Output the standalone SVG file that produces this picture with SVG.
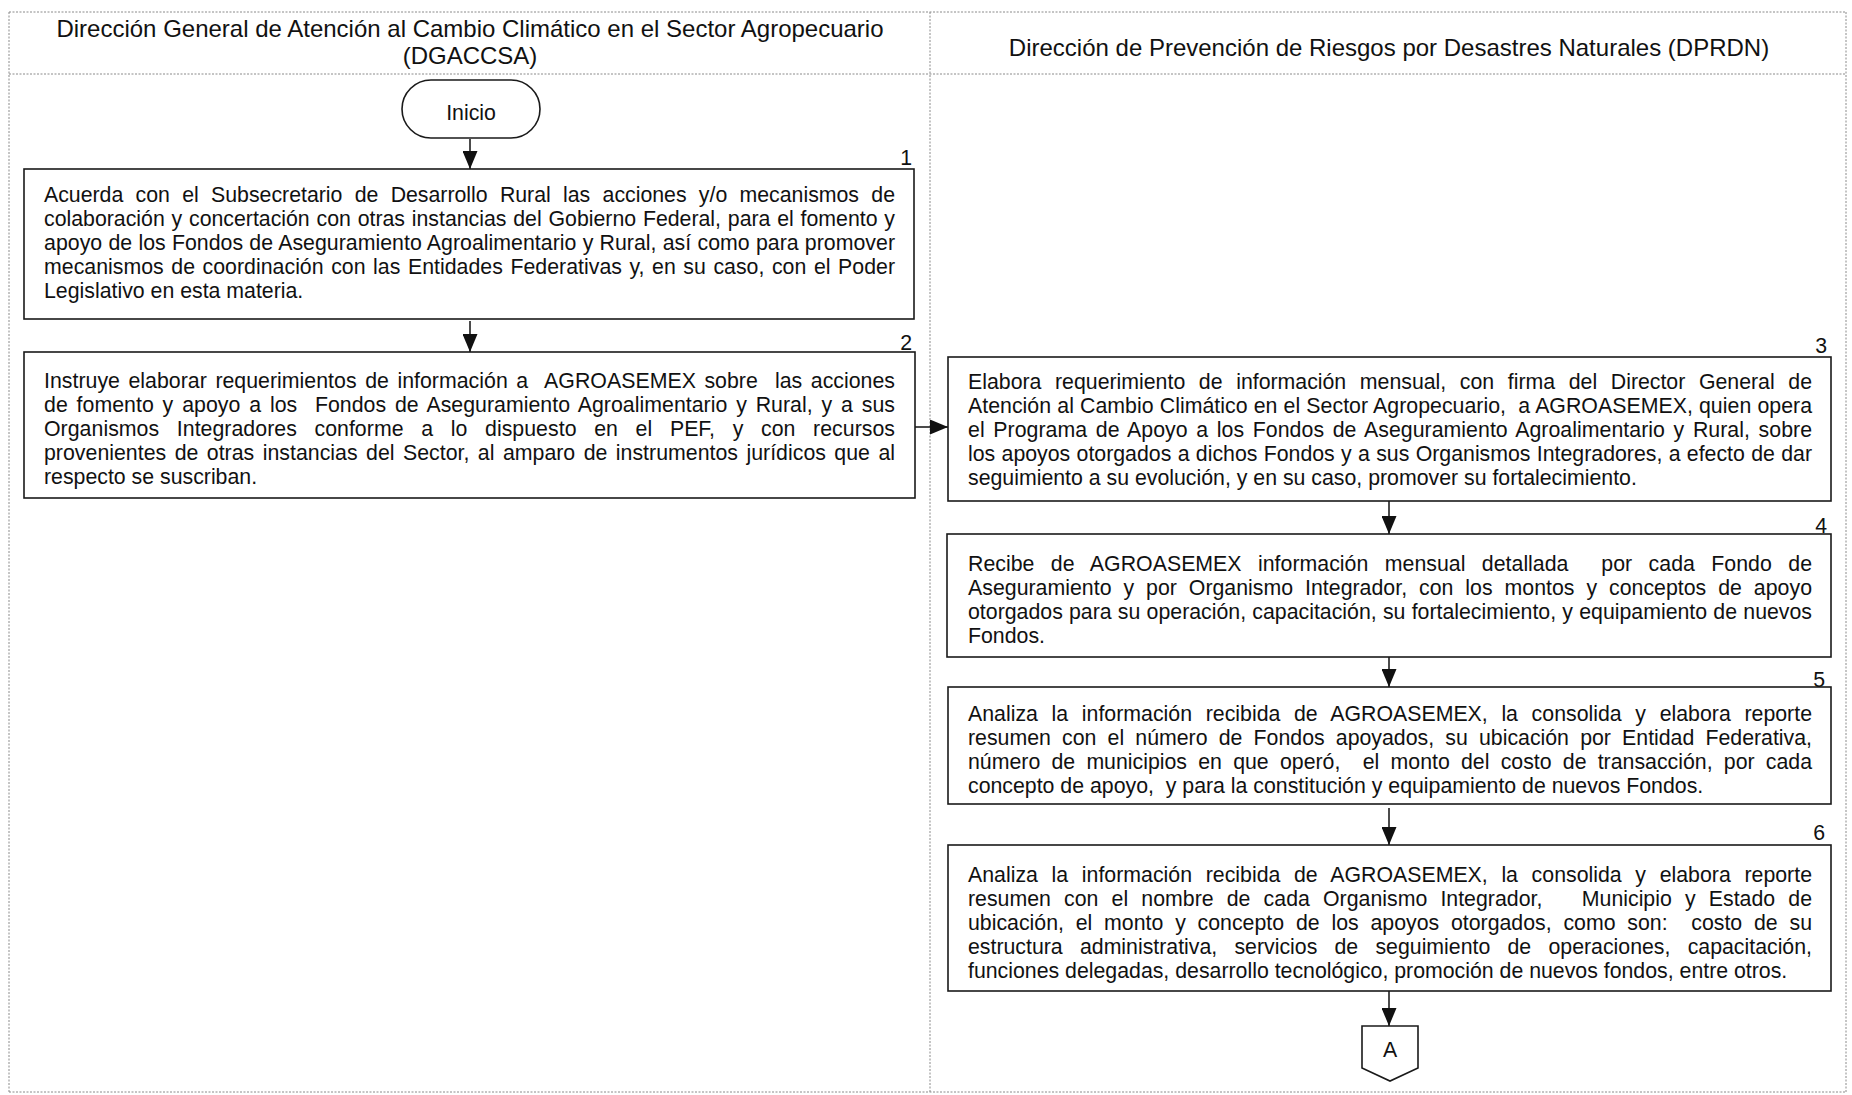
<svg xmlns="http://www.w3.org/2000/svg" width="1852" height="1095" viewBox="0 0 1852 1095">
<defs>
<marker id="ah" markerUnits="userSpaceOnUse" viewBox="0 0 18 15" refX="18" refY="7.5" markerWidth="18" markerHeight="15" orient="auto"><path d="M0,0 L18,7.5 L0,15 z" fill="#111"/></marker>
<style>
.frame{fill:none;stroke:#8a8a8a;stroke-width:1;stroke-dasharray:2 1.5}
.box{fill:#fff;stroke:#1a1a1a;stroke-width:1.6}
.t{font-family:"Liberation Sans",Arial,sans-serif;font-size:21.3px;fill:#111}
.p{white-space:pre}
.h{font-family:"Liberation Sans",Arial,sans-serif;font-size:24px;fill:#111;text-anchor:middle}
.num{font-family:"Liberation Sans",Arial,sans-serif;font-size:21.3px;fill:#111;text-anchor:end}
.c{text-anchor:middle}
.conn{fill:none;stroke:#111;stroke-width:1.5;marker-end:url(#ah)}
</style>
</defs>
<rect width="1852" height="1095" fill="#fff"/>
<g id="frame">
<path class="frame" d="M9,12 H1846 M9,74 H1846 M9,12 V1092 M930,12 V1092 M1846,12 V1092 M9,1092 H1846"/>
</g>
<g id="lane-headers">
<text class="h" x="470" y="37">Dirección General de Atención al Cambio Climático en el Sector Agropecuario</text>
<text class="h" x="470" y="64">(DGACCSA)</text>
<text class="h" x="1389" y="56">Dirección de Prevención de Riesgos por Desastres Naturales (DPRDN)</text>
</g>
<g id="connectors">
<path class="conn" d="M470,139 V169"/>
<path class="conn" d="M470,321 V352"/>
<path class="conn" d="M915,427 H948"/>
<path class="conn" d="M1389,501 V534"/>
<path class="conn" d="M1389,657 V687"/>
<path class="conn" d="M1389,808 V845"/>
<path class="conn" d="M1389,991 V1026"/>
</g>
<g id="inicio">
<rect class="box" x="402" y="80" width="138" height="58" rx="29"/>
<text class="t c" x="471" y="120">Inicio</text>
</g>
<g id="step1">
<rect class="box" x="24" y="169" width="890" height="150"/>
<text class="num" x="912" y="165">1</text>
<text class="t" x="44" y="202" textLength="851" lengthAdjust="spacing" style="word-spacing:6.4px">Acuerda con el Subsecretario de Desarrollo Rural las acciones y/o mecanismos de</text>
<text class="t" x="44" y="226" textLength="851" lengthAdjust="spacing" style="word-spacing:0.9px">colaboración y concertación con otras instancias del Gobierno Federal, para el fomento y</text>
<text class="t" x="44" y="250" textLength="851" lengthAdjust="spacing" style="word-spacing:0.3px">apoyo de los Fondos de Aseguramiento Agroalimentario y Rural, así como para promover</text>
<text class="t" x="44" y="274" textLength="851" lengthAdjust="spacing" style="word-spacing:1.6px">mecanismos de coordinación con las Entidades Federativas y, en su caso, con el Poder</text>
<text class="t" x="44" y="298">Legislativo en esta materia.</text>
</g>
<g id="step2">
<rect class="box" x="24" y="352" width="891" height="146"/>
<text class="num" x="912" y="350">2</text>
<text class="t p" x="44" y="388" textLength="851" lengthAdjust="spacing" style="word-spacing:2.6px">Instruye elaborar requerimientos de información a  AGROASEMEX sobre  las acciones</text>
<text class="t p" x="44" y="412" textLength="851" lengthAdjust="spacing" style="word-spacing:2.9px">de fomento y apoyo a los  Fondos de Aseguramiento Agroalimentario y Rural, y a sus</text>
<text class="t" x="44" y="436" textLength="851" lengthAdjust="spacing" style="word-spacing:11.7px">Organismos Integradores conforme a lo dispuesto en el PEF, y con recursos</text>
<text class="t" x="44" y="460" textLength="851" lengthAdjust="spacing" style="word-spacing:2.5px">provenientes de otras instancias del Sector, al amparo de instrumentos jurídicos que al</text>
<text class="t" x="44" y="484">respecto se suscriban.</text>
</g>
<g id="step3">
<rect class="box" x="948" y="357" width="883" height="144"/>
<text class="num" x="1827" y="353">3</text>
<text class="t" x="968" y="389" textLength="844" lengthAdjust="spacing" style="word-spacing:7.7px">Elabora requerimiento de información mensual, con firma del Director General de</text>
<text class="t p" x="968" y="413" textLength="844" lengthAdjust="spacing" style="word-spacing:0.2px">Atención al Cambio Climático en el Sector Agropecuario,  a AGROASEMEX, quien opera</text>
<text class="t" x="968" y="437" textLength="844" lengthAdjust="spacing" style="word-spacing:2.7px">el Programa de Apoyo a los Fondos de Aseguramiento Agroalimentario y Rural, sobre</text>
<text class="t" x="968" y="461" textLength="844" lengthAdjust="spacing" style="word-spacing:0.4px">los apoyos otorgados a dichos Fondos y a sus Organismos Integradores, a efecto de dar</text>
<text class="t" x="968" y="485">seguimiento a su evolución, y en su caso, promover su fortalecimiento.</text>
</g>
<g id="step4">
<rect class="box" x="947" y="534" width="884" height="123"/>
<text class="num" x="1827" y="533">4</text>
<text class="t p" x="968" y="571" textLength="844" lengthAdjust="spacing" style="word-spacing:10.5px">Recibe de AGROASEMEX información mensual detallada  por cada Fondo de</text>
<text class="t" x="968" y="595" textLength="844" lengthAdjust="spacing" style="word-spacing:6px">Aseguramiento y por Organismo Integrador, con los montos y conceptos de apoyo</text>
<text class="t" x="968" y="619" textLength="844" lengthAdjust="spacing" style="word-spacing:0.3px">otorgados para su operación, capacitación, su fortalecimiento, y equipamiento de nuevos</text>
<text class="t" x="968" y="643">Fondos.</text>
</g>
<g id="step5">
<rect class="box" x="948" y="687" width="883" height="117"/>
<text class="num" x="1825" y="687">5</text>
<text class="t" x="968" y="721" textLength="844" lengthAdjust="spacing" style="word-spacing:7.7px">Analiza la información recibida de AGROASEMEX, la consolida y elabora reporte</text>
<text class="t" x="968" y="745" textLength="844" lengthAdjust="spacing" style="word-spacing:5.3px">resumen con el número de Fondos apoyados, su ubicación por Entidad Federativa,</text>
<text class="t p" x="968" y="769" textLength="844" lengthAdjust="spacing" style="word-spacing:5.3px">número de municipios en que operó,  el monto del costo de transacción, por cada</text>
<text class="t p" x="968" y="793">concepto de apoyo,  y para la constitución y equipamiento de nuevos Fondos.</text>
</g>
<g id="step6">
<rect class="box" x="948" y="845" width="883" height="146"/>
<text class="num" x="1825" y="840">6</text>
<text class="t" x="968" y="882" textLength="844" lengthAdjust="spacing" style="word-spacing:7.7px">Analiza la información recibida de AGROASEMEX, la consolida y elabora reporte</text>
<text class="t p" x="968" y="906" textLength="844" lengthAdjust="spacing" style="word-spacing:7.2px">resumen con el nombre de cada Organismo Integrador,   Municipio y Estado de</text>
<text class="t p" x="968" y="930" textLength="844" lengthAdjust="spacing" style="word-spacing:5.9px">ubicación, el monto y concepto de los apoyos otorgados, como son:  costo de su</text>
<text class="t" x="968" y="954" textLength="844" lengthAdjust="spacing" style="word-spacing:11.3px">estructura administrativa, servicios de seguimiento de operaciones, capacitación,</text>
<text class="t" x="968" y="978">funciones delegadas, desarrollo tecnológico, promoción de nuevos fondos, entre otros.</text>
</g>
<g id="connector-A">
<path class="box" d="M1362,1026 H1418 V1068 L1390,1081 L1362,1068 Z"/>
<text class="t c" x="1390" y="1057">A</text>
</g>
</svg>
